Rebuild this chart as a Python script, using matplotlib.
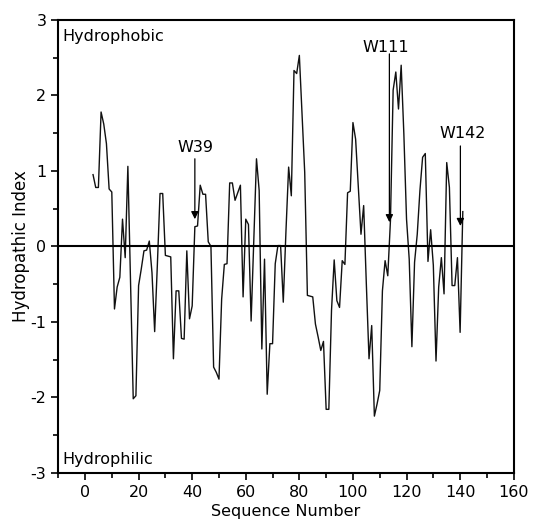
import matplotlib
matplotlib.use("Agg")
import matplotlib.pyplot as plt
from matplotlib.ticker import MultipleLocator

# hydropathy values, residue 3..141
residues = list(range(3, 142))
hydropathy = [
    0.95, 0.78, 0.78, 1.78, 1.62, 1.36, 0.76, 0.72, -0.83, -0.54,    # 3-12
    -0.41, 0.36, -0.15, 1.06, -0.50, -2.02, -1.98, -0.52, -0.30, -0.06,  # 13-22
    -0.05, 0.07, -0.35, -1.13, -0.25, 0.70, 0.70, -0.12, -0.13, -0.14,   # 23-32
    -1.49, -0.59, -0.59, -1.22, -1.23, -0.06, -0.96, -0.79, 0.26, 0.27,  # 33-42
    0.81, 0.69, 0.69, 0.06, 0.00, -1.60, -1.67, -1.76, -0.70, -0.24,     # 43-52
    -0.23, 0.84, 0.84, 0.61, 0.71, 0.81, -0.67, 0.36, 0.29, -0.99,       # 53-62
    0.10, 1.16, 0.74, -1.36, -0.17, -1.96, -1.29, -1.29, -0.23, 0.01,    # 63-72
    0.01, -0.74, 0.20, 1.05, 0.67, 2.33, 2.29, 2.53, 1.75, 0.98,         # 73-82
    -0.65, -0.66, -0.67, -1.03, -1.20, -1.38, -1.26, -2.16, -2.16, -0.85,  # 83-92
    -0.18, -0.72, -0.81, -0.19, -0.24, 0.71, 0.73, 1.64, 1.42, 0.78,     # 93-102
    0.16, 0.54, -0.50, -1.49, -1.05, -2.25, -2.09, -1.91, -0.59, -0.19,  # 103-112
    -0.39, 0.34, 2.07, 2.31, 1.82, 2.40, 1.49, 0.36, -0.17, -1.33,       # 113-122
    -0.21, 0.16, 0.74, 1.18, 1.23, -0.20, 0.22, -0.25, -1.52, -0.54,     # 123-132
    -0.15, -0.63, 1.11, 0.78, -0.52, -0.52, -0.15, -1.14, 0.46,          # 133-141
]

# tryptophan markers: label, arrow x, arrow top, arrow tip, text x, text y
trp_labels = ["W39", "W111", "W142"]
trp_x = [41.0, 113.6, 140.1]
trp_top = [1.16, 2.55, 1.33]
trp_tip = [0.36, 0.32, 0.27]
trp_text_x = [41.1, 112.1, 141.0]
trp_text_y = [1.31, 2.64, 1.49]

plt.rcParams['font.family'] = ['DejaVu Sans']
plt.rcParams['axes.unicode_minus'] = False

fig = plt.figure(figsize=(5.34, 5.25), dpi=100)
ax = fig.add_axes([0.109, 0.0996, 0.853, 0.8624])

ax.plot(residues, hydropathy, color='#111111', lw=1.0)
ax.axhline(0, color='black', lw=1.5)

for lab, x, top, tip, tx, ty in zip(trp_labels, trp_x, trp_top, trp_tip, trp_text_x, trp_text_y):
    ax.annotate('', xy=(x, tip), xytext=(x, top),
                arrowprops=dict(arrowstyle='-|>', color='black', lw=0.9,
                                mutation_scale=11, shrinkA=0, shrinkB=0))
    ax.text(tx, ty, lab, ha='center', va='center', fontsize=11.5)

ax.text(-8.4, 2.78, 'Hydrophobic', ha='left', va='center', fontsize=11.5)
ax.text(-8.4, -2.82, 'Hydrophilic', ha='left', va='center', fontsize=11.5)

ax.set_xlim(-10, 160)
ax.set_ylim(-3, 3)
ax.xaxis.set_major_locator(MultipleLocator(20))
ax.xaxis.set_minor_locator(MultipleLocator(10))
ax.yaxis.set_major_locator(MultipleLocator(1))
ax.yaxis.set_minor_locator(MultipleLocator(0.5))
ax.tick_params(which='both', direction='out', top=False, right=False,
               width=1.2, labelsize=11.5)
ax.tick_params(which='major', length=5)
ax.tick_params(which='minor', length=3.5)
for sp in ax.spines.values():
    sp.set_linewidth(1.5)

ax.set_xlabel('Sequence Number', fontsize=11.5, labelpad=3)
ax.set_ylabel('Hydropathic Index', fontsize=12)
ax.yaxis.set_label_coords(-0.063, 0.5)

fig.savefig('out.png', dpi=100)
